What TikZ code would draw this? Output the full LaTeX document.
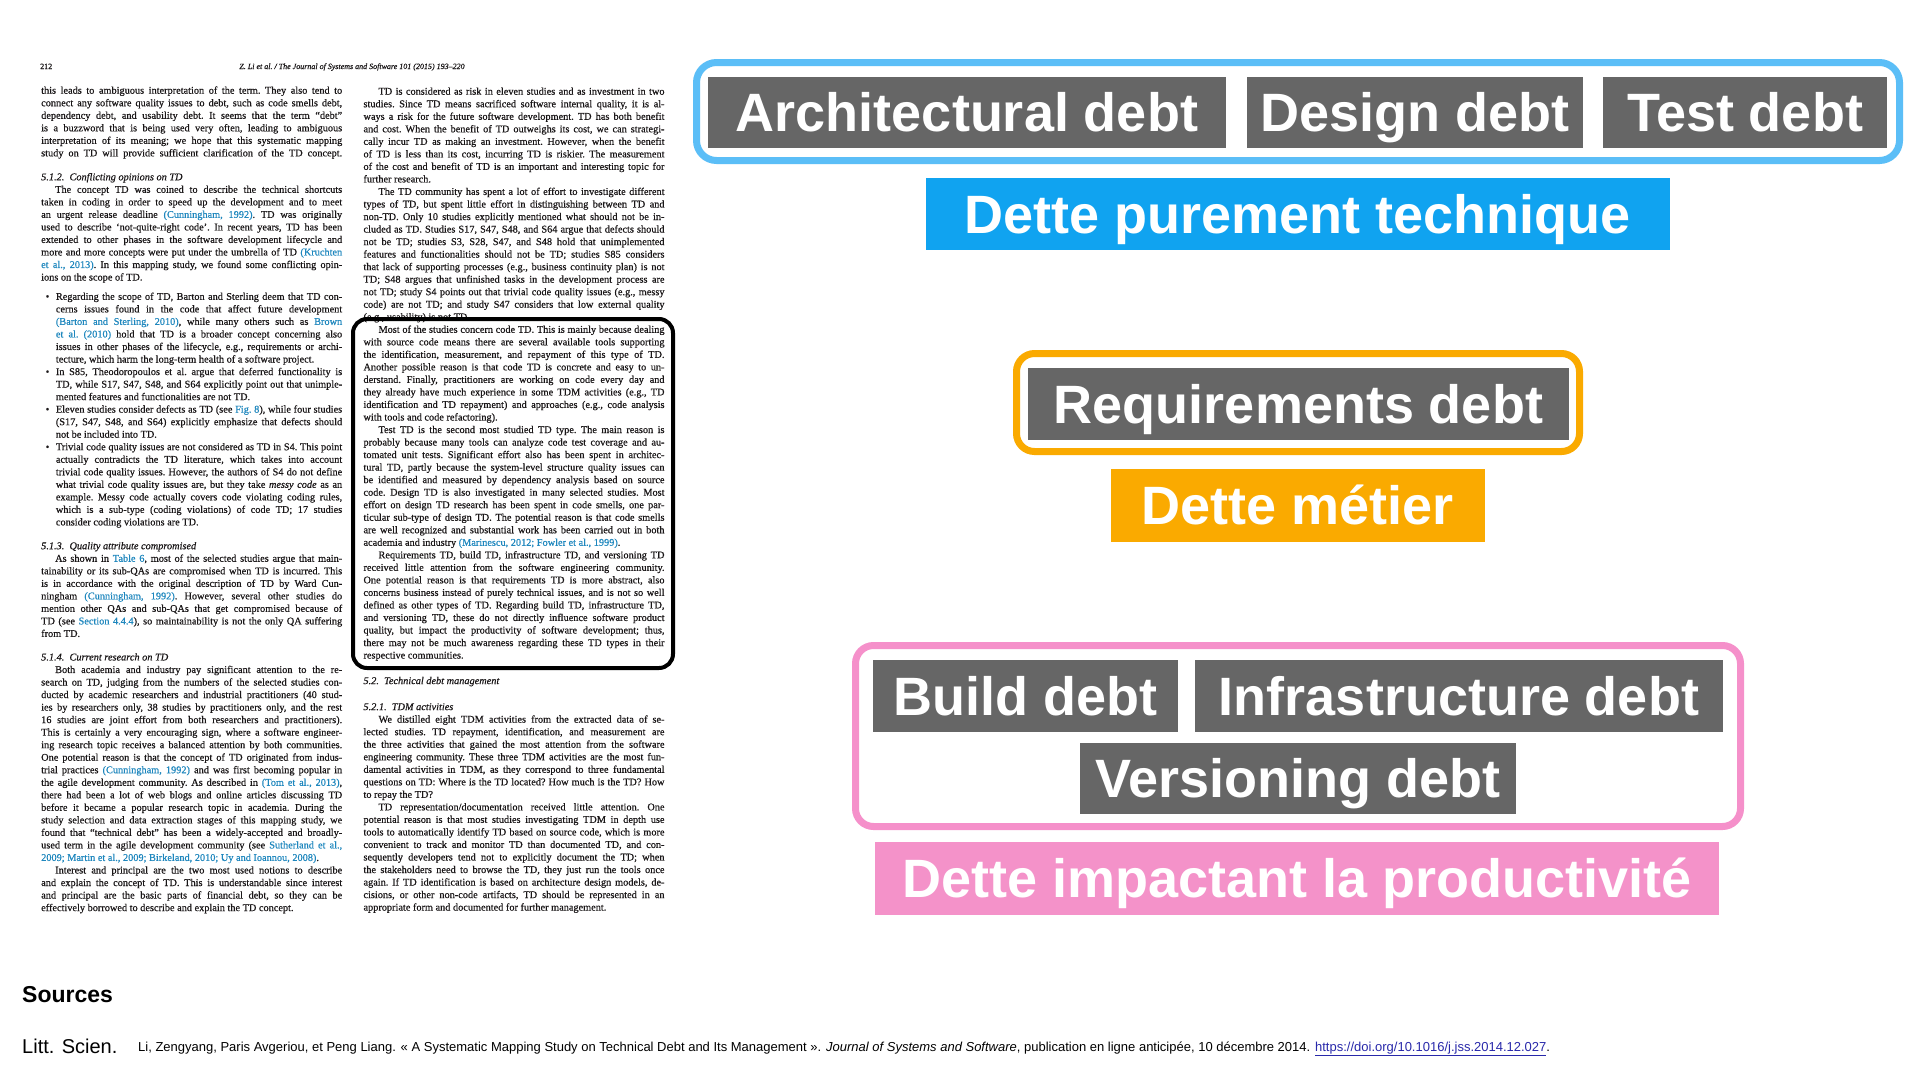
\documentclass[tikz,border=0pt]{standalone}
\usepackage{fontspec}
\setmainfont{Liberation Serif}
\newfontfamily\paperfont{Liberation Serif}[FakeBold=0.5]
\newfontfamily\hv{Liberation Sans}
\definecolor{boxgrey}{HTML}{666666}
\definecolor{lightblue}{HTML}{5BBEF7}
\definecolor{techblue}{HTML}{10A3F0}
\definecolor{orangec}{HTML}{FAAA00}
\definecolor{pinkb}{HTML}{F590CA}
\definecolor{pinkf}{HTML}{F492C9}
\definecolor{papertext}{HTML}{1A1718}
\definecolor{linkblue}{RGB}{30,135,190}
\definecolor{doiblue}{RGB}{40,40,170}
\newcommand\lk[1]{\textcolor{linkblue}{#1}}
\newcommand\pline[1]{\hbox to 301pt{#1}}
\newcommand\plast[1]{\hbox to 301pt{#1\hfil}}
\newcommand\bfirst[1]{\hbox to 301pt{\kern4.5pt\hbox to 10.2pt{\textbullet\hss}\hbox to 286.3pt{#1}}}
\newcommand\bline[1]{\hbox to 301pt{\kern14.7pt\hbox to 286.3pt{#1}}}
\newcommand\blast[1]{\hbox to 301pt{\kern14.7pt #1\hfil}}
\tikzset{
  greybox/.style={fill=boxgrey, text=white, inner sep=0pt, font=\hv\bfseries\fontsize{54}{60}\selectfont, text height=38.7pt, text depth=0pt},
  paper/.style={inner sep=0pt, anchor=base west, text=papertext, font=\paperfont\frenchspacing\fontsize{10.3}{12.53}\selectfont},
  frameline/.style={line width=7pt, rounded corners=20pt}
}
\begin{document}
\begin{tikzpicture}[x=1pt,y=-1pt]
\useasboundingbox (0,0) rectangle (1920,1080);
\fill[white] (0,0) rectangle (1920,1080);
% header of the page
\node[anchor=base west, inner sep=0pt, text=papertext, font=\paperfont\fontsize{8}{9}\selectfont] (pnum) at (40,69) {212};
\node[anchor=base, inner sep=0pt, text=papertext, font=\paperfont\itshape\frenchspacing\fontsize{8}{9}\selectfont] (phead) at (352,69) {Z. Li et al. / The Journal of Systems and Software 101 (2015) 193–220};
% column 1
\node[paper] (col1) at (41,93.7) {\vtop{%
\pline{this leads to ambiguous interpretation of the term. They also tend to}
\pline{connect any software quality issues to debt, such as code smells debt,}
\pline{dependency debt, and usability debt. It seems that the term “debt”}
\pline{is a buzzword that is being used very often, leading to ambiguous}
\pline{interpretation of its meaning; we hope that this systematic mapping}
\pline{study on TD will provide sufficient clarification of the TD concept.}
\vskip 11.4pt
\plast{\textit{5.1.2.\ \ Conflicting opinions on TD}}
\pline{\kern14pt The concept TD was coined to describe the technical shortcuts}
\pline{taken in coding in order to speed up the development and to meet}
\pline{an urgent release deadline \lk{(Cunningham, 1992)}. TD was originally}
\pline{used to describe ‘not-quite-right code’. In recent years, TD has been}
\pline{extended to other phases in the software development lifecycle and}
\pline{more and more concepts were put under the umbrella of TD \lk{(Kruchten}}
\pline{\lk{et al., 2013)}. In this mapping study, we found some conflicting opin-}
\plast{ions on the scope of TD.}
\vskip 6.8pt
\bfirst{Regarding the scope of TD, Barton and Sterling deem that TD con-}
\bline{cerns issues found in the code that affect future development}
\bline{\lk{(Barton and Sterling, 2010)}, while many others such as \lk{Brown}}
\bline{\lk{et al. (2010)} hold that TD is a broader concept concerning also}
\bline{issues in other phases of the lifecycle, e.g., requirements or archi-}
\blast{tecture, which harm the long-term health of a software project.}
\bfirst{In S85, Theodoropoulos et al. argue that deferred functionality is}
\bline{TD, while S17, S47, S48, and S64 explicitly point out that unimple-}
\blast{mented features and functionalities are not TD.}
\bfirst{Eleven studies consider defects as TD (see \lk{Fig. 8}), while four studies}
\bline{(S17, S47, S48, and S64) explicitly emphasize that defects should}
\blast{not be included into TD.}
\bfirst{Trivial code quality issues are not considered as TD in S4. This point}
\bline{actually contradicts the TD literature, which takes into account}
\bline{trivial code quality issues. However, the authors of S4 do not define}
\bline{what trivial code quality issues are, but they take \textit{messy code} as an}
\bline{example. Messy code actually covers code violating coding rules,}
\bline{which is a sub-type (coding violations) of code TD; 17 studies}
\blast{consider coding violations are TD.}
\vskip 11.3pt
\plast{\textit{5.1.3.\ \ Quality attribute compromised}}
\pline{\kern14pt As shown in \lk{Table 6}, most of the selected studies argue that main-}
\pline{tainability or its sub-QAs are compromised when TD is incurred. This}
\pline{is in accordance with the original description of TD by Ward Cun-}
\pline{ningham \lk{(Cunningham, 1992)}. However, several other studies do}
\pline{mention other QAs and sub-QAs that get compromised because of}
\pline{TD (see \lk{Section 4.4.4}), so maintainability is not the only QA suffering}
\plast{from TD.}
\vskip 11pt
\plast{\textit{5.1.4.\ \ Current research on TD}}
\pline{\kern14pt Both academia and industry pay significant attention to the re-}
\pline{search on TD, judging from the numbers of the selected studies con-}
\pline{ducted by academic researchers and industrial practitioners (40 stud-}
\pline{ies by researchers only, 38 studies by practitioners only, and the rest}
\pline{16 studies are joint effort from both researchers and practitioners).}
\pline{This is certainly a very encouraging sign, where a software engineer-}
\pline{ing research topic receives a balanced attention by both communities.}
\pline{One potential reason is that the concept of TD originated from indus-}
\pline{trial practices \lk{(Cunningham, 1992)} and was first becoming popular in}
\pline{the agile development community. As described in \lk{(Tom et al., 2013)},}
\pline{there had been a lot of web blogs and online articles discussing TD}
\pline{before it became a popular research topic in academia. During the}
\pline{study selection and data extraction stages of this mapping study, we}
\pline{found that “technical debt” has been a widely-accepted and broadly-}
\pline{used term in the agile development community (see \lk{Sutherland et al.,}}
\plast{\lk{2009; Martin et al., 2009; Birkeland, 2010; Uy and Ioannou, 2008)}.}
\pline{\kern14pt Interest and principal are the two most used notions to describe}
\pline{and explain the concept of TD. This is understandable since interest}
\pline{and principal are the basic parts of financial debt, so they can be}
\plast{effectively borrowed to describe and explain the TD concept.}
}};
% column 2
\node[paper] (col2) at (363.3,94.7) {\vtop{%
\pline{\kern15pt TD is considered as risk in eleven studies and as investment in two}
\pline{studies. Since TD means sacrificed software internal quality, it is al-}
\pline{ways a risk for the future software development. TD has both benefit}
\pline{and cost. When the benefit of TD outweighs its cost, we can strategi-}
\pline{cally incur TD as making an investment. However, when the benefit}
\pline{of TD is less than its cost, incurring TD is riskier. The measurement}
\pline{of the cost and benefit of TD is an important and interesting topic for}
\plast{further research.}
\pline{\kern15pt The TD community has spent a lot of effort to investigate different}
\pline{types of TD, but spent little effort in distinguishing between TD and}
\pline{non-TD. Only 10 studies explicitly mentioned what should not be in-}
\pline{cluded as TD. Studies S17, S47, S48, and S64 argue that defects should}
\pline{not be TD; studies S3, S28, S47, and S48 hold that unimplemented}
\pline{features and functionalities should not be TD; studies S85 considers}
\pline{that lack of supporting processes (e.g., business continuity plan) is not}
\pline{TD; S48 argues that unfinished tasks in the development process are}
\pline{not TD; study S4 points out that trivial code quality issues (e.g., messy}
\pline{code) are not TD; and study S47 considers that low external quality}
\plast{(e.g., usability) is not TD.}
\pline{\kern15pt Most of the studies concern code TD. This is mainly because dealing}
\pline{with source code means there are several available tools supporting}
\pline{the identification, measurement, and repayment of this type of TD.}
\pline{Another possible reason is that code TD is concrete and easy to un-}
\pline{derstand. Finally, practitioners are working on code every day and}
\pline{they already have much experience in some TDM activities (e.g., TD}
\pline{identification and TD repayment) and approaches (e.g., code analysis}
\plast{with tools and code refactoring).}
\pline{\kern15pt Test TD is the second most studied TD type. The main reason is}
\pline{probably because many tools can analyze code test coverage and au-}
\pline{tomated unit tests. Significant effort also has been spent in architec-}
\pline{tural TD, partly because the system-level structure quality issues can}
\pline{be identified and measured by dependency analysis based on source}
\pline{code. Design TD is also investigated in many selected studies. Most}
\pline{effort on design TD research has been spent in code smells, one par-}
\pline{ticular sub-type of design TD. The potential reason is that code smells}
\pline{are well recognized and substantial work has been carried out in both}
\plast{academia and industry \lk{(Marinescu, 2012; Fowler et al., 1999)}.}
\pline{\kern15pt Requirements TD, build TD, infrastructure TD, and versioning TD}
\pline{received little attention from the software engineering community.}
\pline{One potential reason is that requirements TD is more abstract, also}
\pline{concerns business instead of purely technical issues, and is not so well}
\pline{defined as other types of TD. Regarding build TD, infrastructure TD,}
\pline{and versioning TD, these do not directly influence software product}
\pline{quality, but impact the productivity of software development; thus,}
\pline{there may not be much awareness regarding these TD types in their}
\plast{respective communities.}
\vskip 13pt
\plast{\textit{5.2.\ \ Technical debt management}}
\vskip 13.5pt
\plast{\textit{5.2.1.\ \ TDM activities}}
\pline{\kern15pt We distilled eight TDM activities from the extracted data of se-}
\pline{lected studies. TD repayment, identification, and measurement are}
\pline{the three activities that gained the most attention from the software}
\pline{engineering community. These three TDM activities are the most fun-}
\pline{damental activities in TDM, as they correspond to three fundamental}
\pline{questions on TD: Where is the TD located? How much is the TD? How}
\plast{to repay the TD?}
\pline{\kern15pt TD representation/documentation received little attention. One}
\pline{potential reason is that most studies investigating TDM in depth use}
\pline{tools to automatically identify TD based on source code, which is more}
\pline{convenient to track and monitor TD than documented TD, and con-}
\pline{sequently developers tend not to explicitly document the TD; when}
\pline{the stakeholders need to browse the TD, they just run the tools once}
\pline{again. If TD identification is based on architecture design models, de-}
\pline{cisions, or other non-code artifacts, TD should be represented in an}
\plast{appropriate form and documented for further management.}
}};
% highlight frame on the page
\draw[line width=4pt, black, rounded corners=14pt] (353,319) rectangle (673,668);
% technical debt group
\draw[frameline, draw=lightblue] (696.5,62.5) rectangle (1899.5,160.5);
\node[greybox, minimum width=518pt, minimum height=71pt] (arch) at (967,112.5) {Architectural debt};
\node[greybox, minimum width=336.4pt, minimum height=71pt] (design) at (1414.8,112.5) {Design debt};
\node[greybox, minimum width=284pt, minimum height=71pt] (test) at (1745,112.5) {Test debt};
\node[greybox, fill=techblue, minimum width=744pt, minimum height=72.5pt] (tech) at (1298,213.75) {Dette purement technique};
% business debt group
\draw[frameline, draw=orangec, rounded corners=18pt] (1016.5,353.5) rectangle (1579.5,451.5);
\node[greybox, minimum width=541pt, minimum height=72pt] (req) at (1298.5,404) {Requirements debt};
\node[greybox, fill=orangec, minimum width=374pt, minimum height=73pt] (metier) at (1298,505) {Dette métier};
% productivity debt group
\draw[frameline, draw=pinkb, rounded corners=18pt] (855.5,645.5) rectangle (1740.5,826.5);
\node[greybox, minimum width=305pt, minimum height=72pt] (build) at (1025.5,696) {Build debt};
\node[greybox, minimum width=528pt, minimum height=72pt] (infra) at (1459,696) {Infrastructure debt};
\node[greybox, minimum width=436pt, minimum height=71pt] (vers) at (1298,778.5) {Versioning debt};
\node[greybox, fill=pinkf, minimum width=844pt, minimum height=73pt] (prod) at (1297,878.5) {Dette impactant la productivité};
% sources
\node[anchor=base west, inner sep=0pt, font=\hv\bfseries\fontsize{23}{26}\selectfont] (src) at (22,1002) {Sources};
\node[anchor=base west, inner sep=0pt, font=\hv\fontsize{20}{24}\selectfont] (litt) at (22,1053) {Litt. Scien.};
\node[anchor=base west, inner sep=0pt, font=\hv\fontsize{13}{15}\selectfont] (cite) at (138,1051) {Li, Zengyang, Paris Avgeriou, et Peng Liang. « A Systematic Mapping Study on Technical Debt and Its Management ». \textit{Journal of Systems and Software}, publication en ligne anticipée, 10 décembre 2014. \textcolor{doiblue}{\underline{https://doi.org/10.1016/j.jss.2014.12.027}}.};
\end{tikzpicture}
\end{document}
